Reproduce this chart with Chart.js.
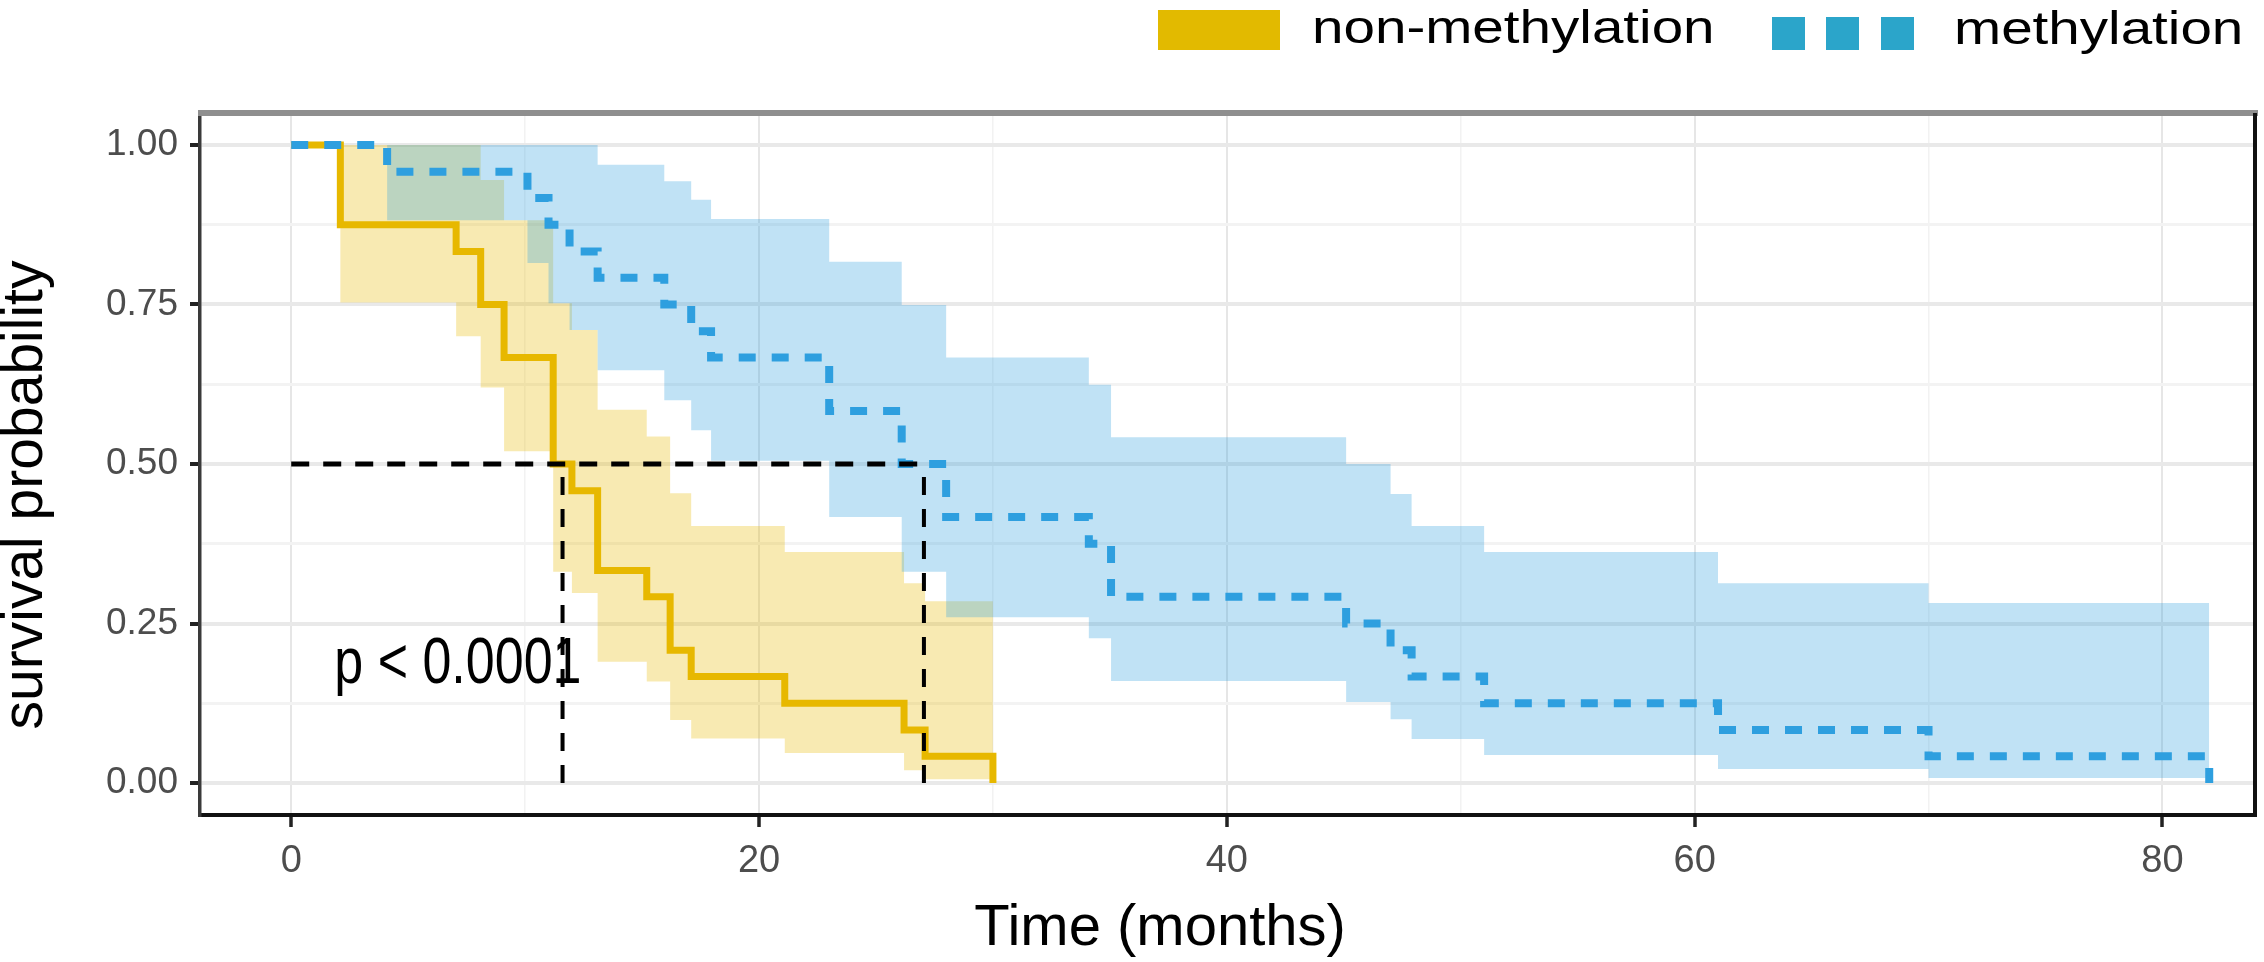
<!DOCTYPE html>
<html lang="en">
<head>
<meta charset="UTF-8">
<title>Survival by methylation status</title>
<script src="https://cdn.jsdelivr.net/npm/chart.js"></script>
<style>
  body { margin: 0; background: #fff; }
  #wrap { position: relative; width: 2264px; height: 962px; overflow: hidden; }
  #chart { position: absolute; left: 0; top: 0; }
  .key { position: absolute; }
  .lbl { position: absolute; font-family: 'Liberation Sans', Arial, sans-serif; font-size: 46px; line-height: 46px;
         color: #000; white-space: nowrap; transform: scaleX(1.23); transform-origin: 0 0; }
</style>
</head>
<body>
<div id="wrap">
  <canvas id="chart" width="2264" height="962"></canvas>
  <div class="key" style="left:1158px;top:10px;width:122px;height:40px;background:#E2BA00"></div>
  <div class="lbl" id="lbl0" style="left:1312px;top:4px"></div>
  <div class="key" style="left:1772px;top:17px;width:33px;height:33px;background:#2BA5CA"></div>
  <div class="key" style="left:1826px;top:17px;width:33px;height:33px;background:#2BA5CA"></div>
  <div class="key" style="left:1881px;top:17px;width:33px;height:33px;background:#2BA5CA"></div>
  <div class="lbl" id="lbl1" style="left:1954px;top:5px"></div>
</div>

<script>
const groupNames = ['non-methylation', 'methylation'];

// non-methylation: KM steps and confidence band
const nonTime  = [0, 2.1, 7.05, 8.1, 9.1, 11.2, 12.0, 13.1, 15.2, 16.2, 17.1, 21.1, 26.2, 27.1, 30.0];
const nonSurv  = [1, 0.875, 0.833, 0.75, 0.667, 0.5, 0.458, 0.333, 0.292, 0.208, 0.167, 0.125, 0.083, 0.042, 0];
const nonUpper = [1, 1, 1, 0.945, 0.882, 0.752, 0.71, 0.585, 0.543, 0.454, 0.403, 0.362, 0.313, 0.285, 0.285];
const nonLower = [1, 0.753, 0.70, 0.62, 0.52, 0.331, 0.298, 0.19, 0.159, 0.099, 0.07, 0.047, 0.02, 0.006, 0.006];

// methylation
const metTime  = [0, 4.1, 10.1, 11.0, 11.9, 13.1, 15.95, 17.1, 17.95, 23.0, 26.1, 28.0, 34.1, 35.05, 45.1, 47.0, 47.9, 51.0, 61.0, 70.0, 82.0];
const metSurv  = [1, 0.958, 0.917, 0.875, 0.833, 0.792, 0.75, 0.708, 0.667, 0.583, 0.5, 0.417, 0.375, 0.292, 0.25, 0.208, 0.167, 0.125, 0.083, 0.042, 0];
const metUpper = [1, 1, 1, 1, 1, 0.969, 0.943, 0.914, 0.884, 0.817, 0.749, 0.667, 0.624, 0.542, 0.50, 0.453, 0.403, 0.362, 0.313, 0.282, 0.282];
const metLower = [1, 0.882, 0.815, 0.752, 0.71, 0.647, 0.60, 0.553, 0.505, 0.417, 0.331, 0.26, 0.227, 0.16, 0.127, 0.10, 0.069, 0.044, 0.022, 0.008, 0.008];

const medianTimes = [11.6, 27.05];
const medianLevel = 0.5;

const xGrid = [0, 10, 20, 30, 40, 50, 60, 70, 80];
const xLabels = [0, 20, 40, 60, 80];
const yGrid = [0, 0.125, 0.25, 0.375, 0.5, 0.625, 0.75, 0.875, 1];
const yLabels = [0, 0.25, 0.5, 0.75, 1];

const pText = 'p < 0.0001';
const pPos = [1.84, 0.157];
const xTitle = 'Time (months)';
const yTitle = 'survival probability';

const YELLOW = '#E7B800';
const BLUE = '#2E9FDF';
const SANS = "'Liberation Sans', Arial, sans-serif";

document.getElementById('lbl0').textContent = groupNames[0];
document.getElementById('lbl1').textContent = groupNames[1];

function pts(xs, ys) {
  return xs.map((x, i) => ({ x: x, y: ys[i] }));
}

function band(data, order, colour) {
  return { data: data, stepped: true, borderWidth: 0, pointRadius: 0, order: order,
           fill: colour ? '-1' : false, backgroundColor: colour || 'rgba(0,0,0,0)' };
}

function median(data, width) {
  return { data: data, borderColor: '#000', borderWidth: width, borderDash: [18, 14],
           borderCapStyle: 'butt', pointRadius: 0, fill: false, order: 0 };
}

const datasets = [
  band(pts(nonTime, nonLower), 6, null),
  band(pts(nonTime, nonUpper), 5, 'rgba(231,184,0,0.3)'),
  band(pts(metTime, metLower), 4, null),
  band(pts(metTime, metUpper), 3, 'rgba(46,159,223,0.3)'),
  { label: groupNames[0], data: pts(nonTime, nonSurv), stepped: true, borderColor: YELLOW, borderWidth: 7,
    pointRadius: 0, fill: false, order: 2 },
  { label: groupNames[1], data: pts(metTime, metSurv), stepped: true, borderColor: BLUE, borderWidth: 8,
    borderDash: [17, 16], borderCapStyle: 'butt', pointRadius: 0, fill: false, order: 1 },
  median([{ x: 0, y: medianLevel }, { x: Math.max(...medianTimes), y: medianLevel }], 5)
];
medianTimes.forEach(t => datasets.push(median([{ x: t, y: 0 }, { x: t, y: medianLevel }], 4)));

// panel frame, p value and axis titles
const decor = {
  id: 'decor',
  afterDraw(chart) {
    const { ctx, chartArea: a, scales } = chart;
    ctx.save();
    ctx.fillStyle = '#8f8f8f';
    ctx.fillRect(a.left - 2, a.top - 3, a.right - a.left + 4, 6);
    ctx.fillStyle = '#111';
    ctx.fillRect(a.right - 3, a.top, 4, a.bottom - a.top + 2);

    ctx.fillStyle = '#000';
    ctx.textBaseline = 'alphabetic';

    // the p value is set in a narrow face in the original
    ctx.save();
    ctx.translate(scales.x.getPixelForValue(pPos[0]), scales.y.getPixelForValue(pPos[1]));
    ctx.scale(0.8, 1);
    ctx.textAlign = 'left';
    ctx.font = '65px ' + SANS;
    ctx.fillText(pText, 0, 0);
    ctx.restore();

    ctx.font = '58px ' + SANS;
    ctx.textAlign = 'center';
    ctx.fillText(xTitle, 1160, 945);
    ctx.translate(42, 495);
    ctx.rotate(-Math.PI / 2);
    ctx.font = '57px ' + SANS;
    ctx.fillText(yTitle, 0, 0);
    ctx.restore();
  }
};

new Chart(document.getElementById('chart'), {
  type: 'line',
  data: { datasets: datasets },
  options: {
    responsive: false,
    animation: false,
    devicePixelRatio: 1,
    layout: { padding: { left: 0, top: 113, right: 8, bottom: 0 } },
    plugins: { legend: { display: false }, tooltip: { enabled: false } },
    scales: {
      x: {
        type: 'linear', min: -3.9, max: 84,
        afterBuildTicks: s => { s.ticks = xGrid.map(v => ({ value: v })); },
        afterFit: s => { s.height = 147; },
        ticks: {
          callback: v => xLabels.includes(v) ? String(v) : '',
          font: { family: SANS, size: 38 }, color: '#4d4d4d', padding: 12,
          maxRotation: 0, autoSkip: false
        },
        grid: {
          color: c => c.tick && c.tick.value % 20 === 0 ? '#e6e6e6' : '#f2f2f2',
          lineWidth: c => c.tick && c.tick.value % 20 === 0 ? 2 : 1.5,
          tickColor: c => c.tick && c.tick.value % 20 === 0 ? '#222' : 'rgba(0,0,0,0)',
          tickLength: 12, tickWidth: 3.5
        },
        border: { color: '#111', width: 4 }
      },
      y: {
        min: -0.05, max: 1.05,
        afterBuildTicks: s => { s.ticks = yGrid.map(v => ({ value: v })); },
        afterFit: s => { s.width = 200; },
        ticks: {
          callback: v => yLabels.includes(v) ? v.toFixed(2) : '',
          font: { family: SANS, size: 37 }, color: '#4d4d4d', padding: 12, autoSkip: false
        },
        grid: {
          color: c => c.tick && yLabels.includes(c.tick.value) ? '#e9e9e9' : '#f3f3f3',
          lineWidth: c => c.tick && yLabels.includes(c.tick.value) ? 4 : 3,
          tickColor: c => c.tick && yLabels.includes(c.tick.value) ? '#222' : 'rgba(0,0,0,0)',
          tickLength: 10, tickWidth: 4
        },
        border: { color: '#3a3a3a', width: 3.5 }
      }
    }
  },
  plugins: [decor]
});
</script>
</body>
</html>
